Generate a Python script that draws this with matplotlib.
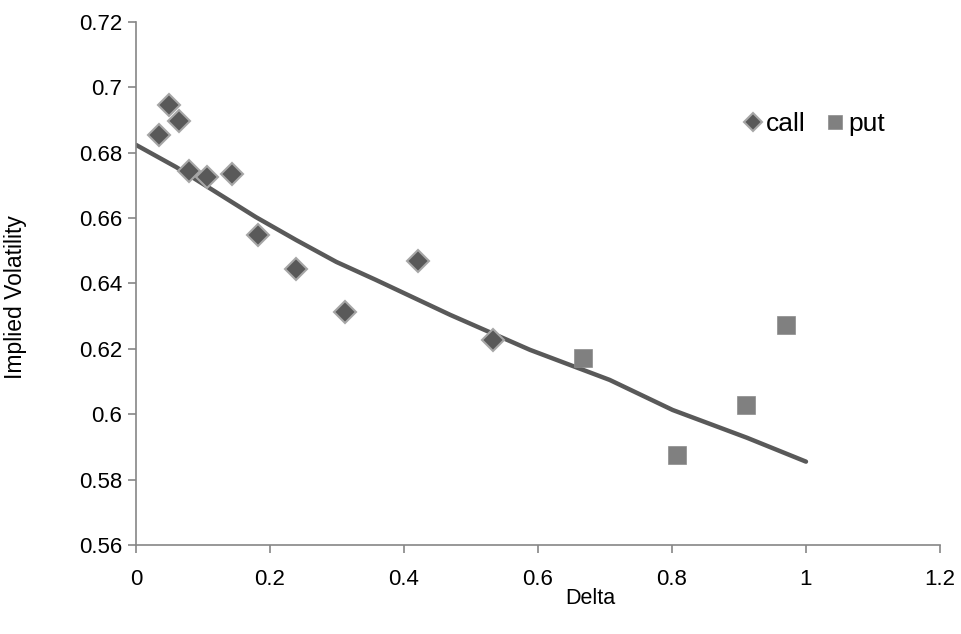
import numpy as np
import matplotlib.pyplot as plt

plt.rcParams['font.family'] = ['Liberation Sans', 'DejaVu Sans']

# 資料
call_delta = [0.034, 0.049, 0.064, 0.079, 0.106, 0.143, 0.182, 0.239, 0.312, 0.421, 0.533]
call_iv = [0.6854, 0.6946, 0.6897, 0.6744, 0.6726, 0.6735, 0.6548, 0.6444, 0.6313, 0.6469, 0.6227]
put_delta = [0.667, 0.807, 0.910, 0.970]
put_iv = [0.6172, 0.5874, 0.6028, 0.6273]
# 趨勢線 (沿線讀點)
fit_delta = [0.0, 0.060, 0.119, 0.179, 0.239, 0.299, 0.358, 0.469, 0.588, 0.707, 0.801, 0.912, 1.0]
fit_iv = [0.6824, 0.6756, 0.6680, 0.6603, 0.6533, 0.6466, 0.6411, 0.6304, 0.6197, 0.6105,
          0.6013, 0.5928, 0.5855]

fig = plt.figure(figsize=(9.62, 6.34), dpi=100)
ax = fig.add_axes([0.1414, 0.1404, 0.8357, 0.8249])

ax.plot(fit_delta, fit_iv, color='#595959', lw=3.2, solid_capstyle='round',
        solid_joinstyle='round', zorder=2)
ax.plot(call_delta, call_iv, 'D', ms=11, color='#595959', mec='#a6a6a6', mew=1.5,
        label='call', zorder=3)
ax.plot(put_delta, put_iv, 's', ms=12.5, color='#808080', mec='#8c8c8c', mew=0.5,
        label='put', zorder=3)

ax.set_xlim(0, 1.2)
ax.set_ylim(0.56, 0.72)
ax.set_xticks(np.arange(0, 1.21, 0.2))
ax.set_xticklabels(['0', '0.2', '0.4', '0.6', '0.8', '1', '1.2'])
ax.set_yticks(np.arange(0.56, 0.7201, 0.02))
ax.set_yticklabels(['0.56', '0.58', '0.6', '0.62', '0.64', '0.66', '0.68', '0.7', '0.72'])

for s in ['top', 'right']:
    ax.spines[s].set_visible(False)
for s in ['left', 'bottom']:
    ax.spines[s].set_color('#868686')
    ax.spines[s].set_linewidth(1.2)
ax.tick_params(colors='#868686', labelcolor='black', labelsize=16, length=6, width=1.2)
ax.tick_params(axis='x', pad=11)
ax.tick_params(axis='y', pad=4)

ax.set_xlabel('Delta', fontsize=15.5)
ax.set_ylabel('Implied Volatility', fontsize=16.5)
ax.xaxis.set_label_coords(0.565, -0.083)
ax.yaxis.set_label_coords(-0.135, 0.474)

ax.legend(loc='center', bbox_to_anchor=(0.841, 0.805), ncol=2, frameon=False,
          fontsize=19, handletextpad=0.0, columnspacing=0.6, handlelength=1.0,
          markerscale=0.85)

fig.savefig('out.png', dpi=100)
